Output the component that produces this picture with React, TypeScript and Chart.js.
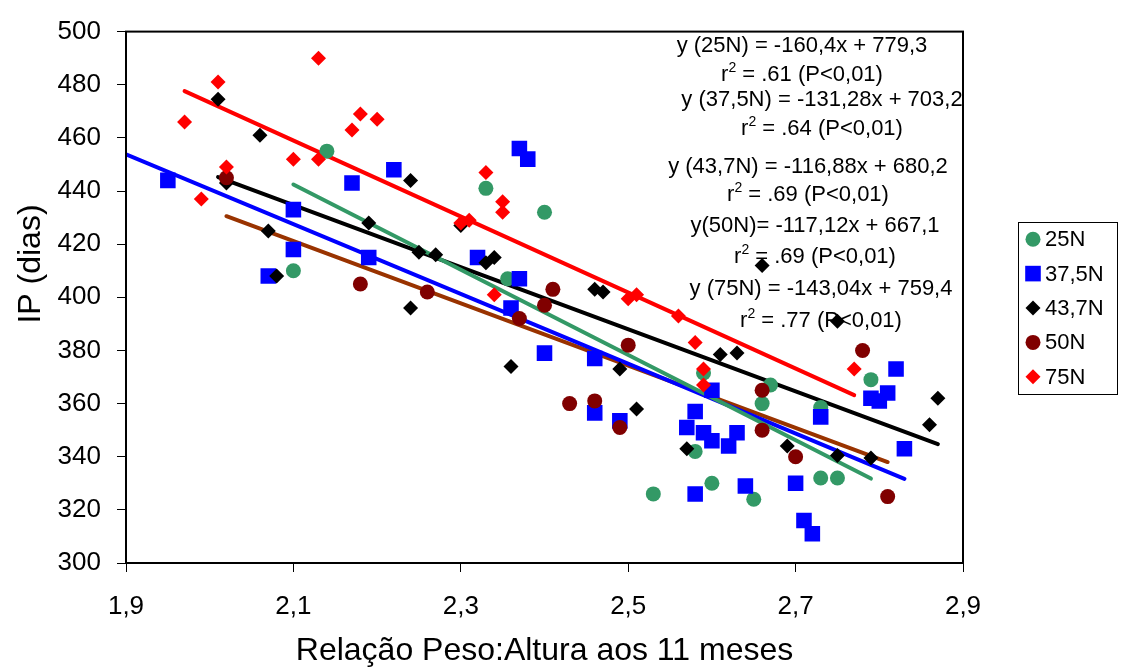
import React, { useEffect, useRef } from "react";
import { Chart, registerables } from "chart.js";

Chart.register(...registerables);

const FONT = "'Liberation Sans', Arial, Helvetica, sans-serif";

// Axis definitions
const xMin = 1.9;
const xMax = 2.9;
const yMin = 300;
const yMax = 500;
const yStep = 20;
const xTickValues = [1.9, 2.1, 2.3, 2.5, 2.7, 2.9];
const xTickLabels = ["1,9", "2,1", "2,3", "2,5", "2,7", "2,9"];

const xTitle = "Relação Peso:Altura aos 11 meses";
const yTitle = "IP (dias)";

// Series names and colours
const seriesNames = ["25N", "37,5N", "43,7N", "50N", "75N"];
const markerColors = ["#339966", "#0000FF", "#000000", "#800000", "#FF0000"];
const markerStyles = ["circle", "rect", "rectRot", "circle", "rectRot"];
const trendColors = ["#339966", "#0000FF", "#000000", "#993300", "#FF0000"];

// 25N
const x25 = [2.14, 2.1, 2.33, 2.4, 2.356, 2.59, 2.67, 2.66, 2.73, 2.79, 2.58, 2.6, 2.65, 2.73, 2.75, 2.53];
const y25 = [455, 410, 441, 432, 407, 371.5, 367, 360, 358.5, 369, 342, 330, 324, 332, 332, 326];

// 37,5N
const x37 = [1.95, 2.1, 2.1, 2.07, 2.17, 2.19, 2.22, 2.32, 2.37, 2.38, 2.37, 2.36, 2.4, 2.46, 2.46, 2.49, 2.6, 2.58, 2.57, 2.59, 2.6, 2.62, 2.63, 2.58, 2.64, 2.7, 2.71, 2.72, 2.73, 2.79, 2.8, 2.81, 2.82, 2.83];
const y37 = [444, 433, 418, 408, 443, 415, 448, 415, 456, 452, 407, 396, 379, 377, 356.5, 353.5, 365, 357, 351, 349, 346, 344, 349, 326, 329, 330, 316, 311, 355, 362, 361, 364, 373, 343];

// 43,7N
const x43 = [2.01, 2.06, 2.02, 2.07, 2.08, 2.19, 2.24, 2.25, 2.27, 2.3, 2.33, 2.34, 2.24, 2.36, 2.46, 2.47, 2.49, 2.51, 2.57, 2.61, 2.63, 2.69, 2.66, 2.75, 2.75, 2.79, 2.86, 2.87];
const y43 = [474.5, 461, 443, 425, 408, 428, 444, 417, 416, 427, 413, 415, 396, 374, 403, 402, 373, 358, 343, 378.5, 379, 344, 412, 391, 340.5, 339.5, 352, 362];

// 50N
const x50 = [2.02, 2.18, 2.26, 2.41, 2.4, 2.37, 2.5, 2.43, 2.46, 2.49, 2.66, 2.66, 2.7, 2.78, 2.81];
const y50 = [445, 405, 402, 403, 397, 392, 382, 360, 361, 351, 365, 350, 340, 380, 325];

// 75N
const x75 = [2.13, 2.01, 1.97, 2.18, 2.2, 2.17, 2.1, 2.13, 2.02, 1.99, 2.33, 2.35, 2.35, 2.3, 2.31, 2.34, 2.5, 2.51, 2.56, 2.58, 2.59, 2.59, 2.77];
const y75 = [490, 481, 466, 469, 467, 463, 452, 452, 449, 437, 447, 436, 432, 428, 429, 401, 399.5, 401, 393, 383, 373, 367, 373];

const seriesX = [x25, x37, x43, x50, x75];
const seriesY = [y25, y37, y43, y50, y75];

// Regression lines (from the chart's equations) and their x extent
const slopes = [-160.4, -131.28, -116.88, -117.12, -143.04];
const intercepts = [779.3, 703.2, 680.2, 667.1, 759.4];
const trendFrom = [2.1, 1.9, 2.01, 2.02, 1.97];
const trendTo = [2.79, 2.83, 2.87, 2.81, 2.77];

// Equation text block ("^2" = superscript 2)
const equationTexts = [
  "y (25N) = -160,4x + 779,3",
  "r^2 = .61 (P<0,01)",
  "y (37,5N) = -131,28x + 703,2",
  "r^2 = .64 (P<0,01)",
  "y (43,7N) = -116,88x + 680,2",
  "r^2 = .69 (P<0,01)",
  "y(50N)= -117,12x + 667,1",
  "r^2 = .69 (P<0,01)",
  "y (75N) = -143,04x + 759,4",
  "r^2 = .77 (P<0,01)",
];
const eqCenterX = [802, 802, 822, 822, 808, 808, 815, 815, 821, 821];
const eqCenterY = [46, 75, 100, 129, 167, 195, 226, 257, 289, 321];

function drawRich(ctx: CanvasRenderingContext2D, text: string, cx: number, cy: number) {
  const big = `22px ${FONT}`;
  const small = `14px ${FONT}`;
  ctx.fillStyle = "#000";
  ctx.textBaseline = "middle";
  const parts = text.split("^2");
  if (parts.length === 1) {
    ctx.font = big;
    ctx.textAlign = "center";
    ctx.fillText(text, cx, cy);
    return;
  }
  ctx.font = big;
  const w0 = ctx.measureText(parts[0]).width;
  const w2 = ctx.measureText(parts[1]).width;
  ctx.font = small;
  const ws = ctx.measureText("2").width;
  let x = cx - (w0 + ws + w2) / 2;
  ctx.textAlign = "left";
  ctx.font = big;
  ctx.fillText(parts[0], x, cy);
  x += w0;
  ctx.font = small;
  ctx.fillText("2", x, cy - 7);
  x += ws;
  ctx.font = big;
  ctx.fillText(parts[1], x, cy);
}

function drawMarker(ctx: CanvasRenderingContext2D, style: string, color: string, x: number, y: number) {
  ctx.fillStyle = color;
  ctx.beginPath();
  if (style === "circle") {
    ctx.arc(x, y, 7.5, 0, Math.PI * 2);
  } else if (style === "rect") {
    ctx.rect(x - 7.8, y - 7.8, 15.6, 15.6);
  } else {
    ctx.moveTo(x - 7.5, y);
    ctx.lineTo(x, y - 7.5);
    ctx.lineTo(x + 7.5, y);
    ctx.lineTo(x, y + 7.5);
    ctx.closePath();
  }
  ctx.fill();
}

const annotationPlugin = {
  id: "eqText",
  beforeDatasetsDraw(chart: any) {
    const ctx = chart.ctx as CanvasRenderingContext2D;
    ctx.save();
    equationTexts.forEach((t, i) => drawRich(ctx, t, eqCenterX[i], eqCenterY[i]));
    // y axis title
    ctx.translate(31, 264);
    ctx.rotate(-Math.PI / 2);
    ctx.font = `32px ${FONT}`;
    ctx.fillStyle = "#000";
    ctx.textAlign = "center";
    ctx.textBaseline = "middle";
    ctx.fillText(yTitle, 0, 0);
    ctx.restore();
  },
};

const frameLegendPlugin = {
  id: "frameLegend",
  afterDraw(chart: any) {
    const ctx = chart.ctx as CanvasRenderingContext2D;
    const a = chart.chartArea;
    ctx.save();
    ctx.strokeStyle = "#000";
    ctx.lineWidth = 2;
    ctx.strokeRect(a.left, a.top, a.right - a.left, a.bottom - a.top);

    // legend
    const lx = 1018, ly = 222, lw = 99, lh = 172;
    ctx.lineWidth = 1;
    ctx.strokeStyle = "#000";
    ctx.strokeRect(lx + 0.5, ly + 0.5, lw, lh);
    const step = lh / seriesNames.length;
    seriesNames.forEach((name, i) => {
      const cy = ly + step * (i + 0.5);
      drawMarker(ctx, markerStyles[i], markerColors[i], lx + 15, cy);
      ctx.fillStyle = "#000";
      ctx.font = `22px ${FONT}`;
      ctx.textAlign = "left";
      ctx.textBaseline = "middle";
      ctx.fillText(name, lx + 27, cy + 1);
    });
    ctx.restore();
  },
};

export default function App() {
  const canvasRef = useRef<HTMLCanvasElement | null>(null);

  useEffect(() => {
    document.body.style.margin = "0";
    const canvas = canvasRef.current;
    if (!canvas) return;

    const pointSets = seriesNames.map((name, i) => ({
      type: "scatter" as const,
      label: name,
      data: seriesX[i].map((x, k) => ({ x, y: seriesY[i][k] })),
      pointStyle: markerStyles[i],
      pointRadius: markerStyles[i] === "rect" ? 11 : 7.5,
      pointBackgroundColor: markerColors[i],
      pointBorderColor: markerColors[i],
      pointBorderWidth: 0,
      showLine: false,
      order: 5 - i,
    }));

    const trendSets = seriesNames.map((name, i) => ({
      type: "scatter" as const,
      label: "trend " + name,
      data: [trendFrom[i], trendTo[i]].map((x) => ({ x, y: intercepts[i] + slopes[i] * x })),
      showLine: true,
      borderColor: trendColors[i],
      borderWidth: 4,
      borderCapStyle: "round" as const,
      pointRadius: 0,
      order: 10,
    }));

    const chart = new Chart(canvas, {
      type: "scatter",
      data: { datasets: [...trendSets, ...pointSets] as any },
      options: {
        animation: false,
        responsive: false,
        maintainAspectRatio: false,
        devicePixelRatio: 1,
        layout: { padding: { left: 0, top: 22, right: 162, bottom: 0 } },
        plugins: {
          legend: { display: false },
          tooltip: { enabled: false },
        },
        scales: {
          x: {
            type: "linear",
            min: xMin,
            max: xMax,
            afterBuildTicks: (scale: any) => {
              scale.ticks = xTickValues.map((v) => ({ value: v }));
            },
            afterFit: (scale: any) => {
              scale.height = 105;
            },
            grid: { drawOnChartArea: false, drawTicks: true, tickLength: 9, color: "#000", lineWidth: 1 },
            border: { display: false },
            ticks: {
              color: "#000",
              font: { family: FONT, size: 26 },
              padding: 19,
              maxRotation: 0,
              autoSkip: false,
              callback: (_v: any, idx: number) => xTickLabels[idx],
            },
            title: {
              display: true,
              text: xTitle,
              color: "#000",
              font: { family: FONT, size: 32, lineHeight: 1 },
              padding: { top: 0, bottom: 1 },
            },
          },
          y: {
            type: "linear",
            min: yMin,
            max: yMax,
            afterFit: (scale: any) => {
              scale.width = 126;
            },
            grid: { drawOnChartArea: false, drawTicks: true, tickLength: 9, color: "#000", lineWidth: 1 },
            border: { display: false },
            ticks: {
              stepSize: yStep,
              color: "#000",
              font: { family: FONT, size: 26 },
              padding: 16,
            },
            title: { display: false },
          },
        },
      } as any,
      plugins: [annotationPlugin, frameLegendPlugin],
    });

    return () => chart.destroy();
  }, []);

  return (
    <div style={{ position: "absolute", left: 0, top: 0, width: 1125, height: 668, background: "#fff" }}>
      <canvas ref={canvasRef} width={1125} height={668} style={{ width: 1125, height: 668, display: "block" }} />
    </div>
  );
}
